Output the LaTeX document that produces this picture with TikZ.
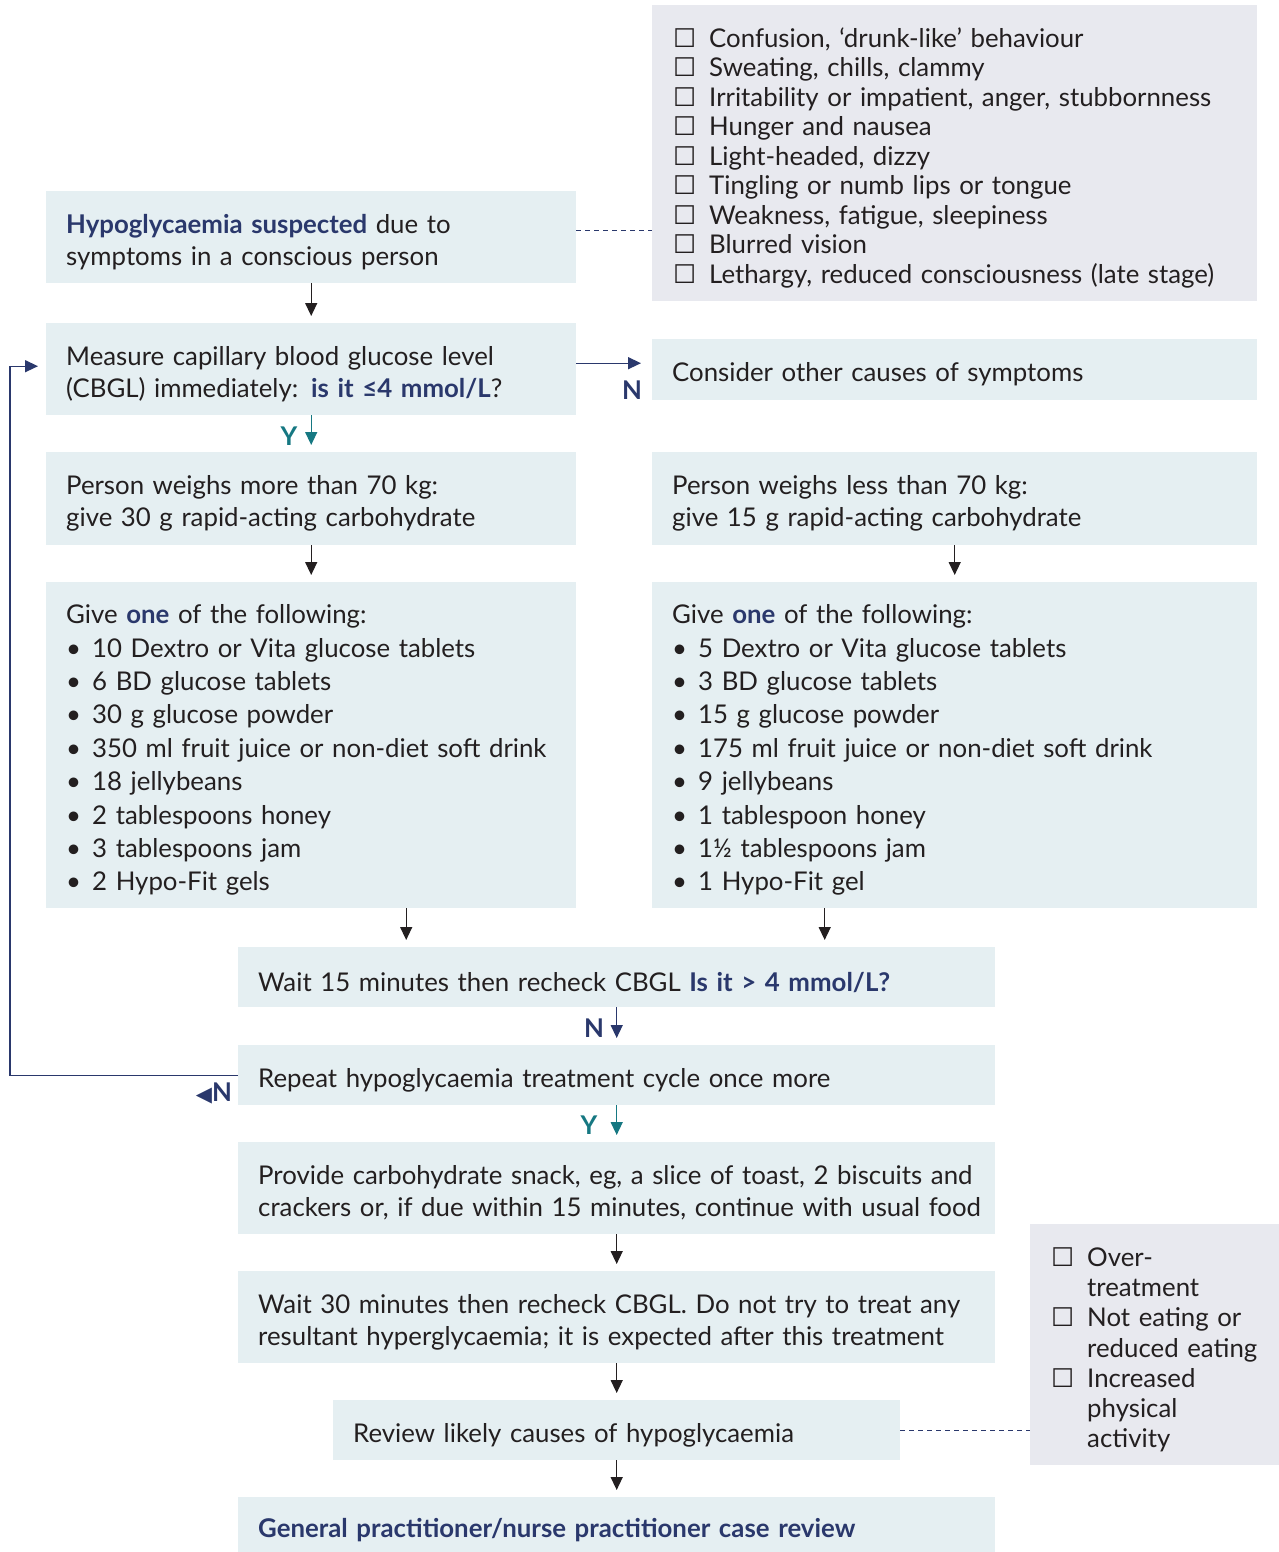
\documentclass[tikz,border=0pt]{standalone}
\usepackage{fontspec}
\setmainfont{Lato}
\newfontfamily\symfont{DejaVu Sans}
\usetikzlibrary{arrows.meta}

\definecolor{boxblue}{RGB}{229,239,242}
\definecolor{boxgrey}{RGB}{232,233,239}
\definecolor{navy}{RGB}{42,56,108}
\definecolor{yesteal}{RGB}{22,120,130}
\definecolor{ink}{RGB}{35,31,32}

\newcommand{\hl}[1]{\textbf{\color{navy}#1}}
\newcommand{\chk}{\makebox[36pt][l]{\symfont ☐}}
\newcommand{\bul}{\makebox[26pt][l]{\textbullet}}
\newcommand{\ind}{\hspace*{36pt}}

\begin{document}
\begin{tikzpicture}[x=1pt, y=-1pt,
  every node/.style={font=\fontsize{25.8}{32}\selectfont, text=ink},
  box/.style={fill=boxblue, anchor=north west, inner xsep=20pt, inner ysep=0pt, align=left,
    execute at begin node={\rule{0pt}{29pt}}},
  listbox/.style={box, font=\fontsize{25.8}{33.4}\selectfont},
  checkbox/.style={box, fill=boxgrey, inner xsep=21pt, font=\fontsize{25.8}{29.5}\selectfont},
  arrow/.style={-{Triangle[width=12pt,length=13pt]}, line width=1.4pt, ink, shorten >=7pt},
  link/.style={dashed, dash pattern=on 5pt off 4pt, line width=1pt, navy},
  yes/.style={font=\bfseries\fontsize{25.8}{26}\selectfont, text=yesteal},
  no/.style={font=\bfseries\fontsize{25.8}{26}\selectfont, text=navy}
]
\path[fill=white, use as bounding box] (0,0) rectangle (1279,1552);

% symptom checklist
\node[checkbox, text width=563, minimum height=296] (symptoms) at (652,5) {%
\chk Confusion, ‘drunk-like’ behaviour\\
\chk Sweating, chills, clammy\\
\chk Irritability or impatient, anger, stubbornness\\
\chk Hunger and nausea\\
\chk Light-headed, dizzy\\
\chk Tingling or numb lips or tongue\\
\chk Weakness, fatigue, sleepiness\\
\chk Blurred vision\\
\chk Lethargy, reduced consciousness (late stage)};

\node[box, text width=490, minimum height=92] (suspect) at (46,191) {\hl{Hypoglycaemia suspected} due to\\symptoms in a conscious person};
\node[box, text width=490, minimum height=92] (measure) at (46,323) {Measure capillary blood glucose level\\(CBGL) immediately: \hl{is it ≤4 mmol/L}?};
\node[box, text width=565, minimum height=61] (other) at (652,339) {Consider other causes of symptoms};

\node[box, text width=490, minimum height=93] (heavy) at (46,452) {Person weighs more than 70 kg:\\give 30 g rapid-acting carbohydrate};
\node[box, text width=565, minimum height=93] (light) at (652,452) {Person weighs less than 70 kg:\\give 15 g rapid-acting carbohydrate};

\node[listbox, text width=490, minimum height=326] (heavylist) at (46,582) {Give \hl{one} of the following:\\
\bul 10 Dextro or Vita glucose tablets\\
\bul 6 BD glucose tablets\\
\bul 30 g glucose powder\\
\bul 350 ml fruit juice or non-diet soft drink\\
\bul 18 jellybeans\\
\bul 2 tablespoons honey\\
\bul 3 tablespoons jam\\
\bul 2 Hypo-Fit gels};
\node[listbox, text width=565, minimum height=326] (lightlist) at (652,582) {Give \hl{one} of the following:\\
\bul 5 Dextro or Vita glucose tablets\\
\bul 3 BD glucose tablets\\
\bul 15 g glucose powder\\
\bul 175 ml fruit juice or non-diet soft drink\\
\bul 9 jellybeans\\
\bul 1 tablespoon honey\\
\bul 1½ tablespoons jam\\
\bul 1 Hypo-Fit gel};

\node[box, text width=717, minimum height=60] (wait15) at (238,947) {Wait 15 minutes then recheck CBGL \hl{Is it > 4 mmol/L?}};
\node[box, text width=717, minimum height=60] (repeat) at (238,1045) {Repeat hypoglycaemia treatment cycle once more};
\node[box, text width=717, minimum height=92] (snack) at (238,1142) {\mbox{Provide carbohydrate snack, eg, a slice of toast, 2 biscuits and}\\\mbox{crackers or, if due within 15 minutes, continue with usual food}};
\node[box, text width=717, minimum height=92] (wait30) at (238,1271) {\mbox{Wait 30 minutes then recheck CBGL. Do not try to treat any}\\\mbox{resultant hyperglycaemia; it is expected after this treatment}};
\node[box, text width=527, minimum height=60] (review) at (333,1400) {Review likely causes of hypoglycaemia};
\node[box, text width=717, minimum height=56] (gp) at (238,1497) {\hl{General practitioner/nurse practitioner case review}};

% likely causes
\node[checkbox, text width=207, minimum height=241, font=\fontsize{25.8}{30.2}\selectfont] (causes) at (1030,1224) {%
\chk Over-\\ \ind treatment\\
\chk Not eating or\\ \ind reduced eating\\
\chk Increased\\ \ind physical\\ \ind activity};

% connectors
\draw[link] ([yshift=7]suspect.east) -- ([yshift=7]suspect.east -| symptoms.west);
\draw[link] (review.east) -- (review.east -| causes.west);

\draw[arrow] (suspect) -- (measure);
\draw[arrow, navy, shorten >=11pt] ([yshift=6]measure.east) -- ([yshift=6]measure.east -| other.west);
\node[no] (n1) at (632,390) {N};
\draw[arrow, yesteal] (measure) -- (heavy);
\node[yes] (y1) at (289,436) {Y};
\draw[arrow] (heavy) -- (heavylist);
\draw[arrow] (light) -- (lightlist);
\draw[arrow] ([xshift=95]heavylist.south) -- ([xshift=95]heavylist.south |- wait15.north);
\draw[arrow] ([xshift=-130]lightlist.south) -- ([xshift=-130]lightlist.south |- wait15.north);
\draw[arrow, navy] (wait15) -- (repeat);
\node[no] (n2) at (594,1028) {N};
\draw[arrow, navy, shorten >=8pt] (repeat.west) -- ++(-228,0) |- ([yshift=3]measure.west);
\node[no] (n3) at (214,1093) {{\symfont\fontsize{21}{21}\selectfont ◀}N};
\draw[arrow, yesteal] (repeat) -- (snack);
\node[yes] (y2) at (589,1125) {Y};
\draw[arrow] (snack) -- (wait30);
\draw[arrow] (wait30) -- (review);
\draw[arrow] (review) -- (gp);
\end{tikzpicture}
\end{document}
